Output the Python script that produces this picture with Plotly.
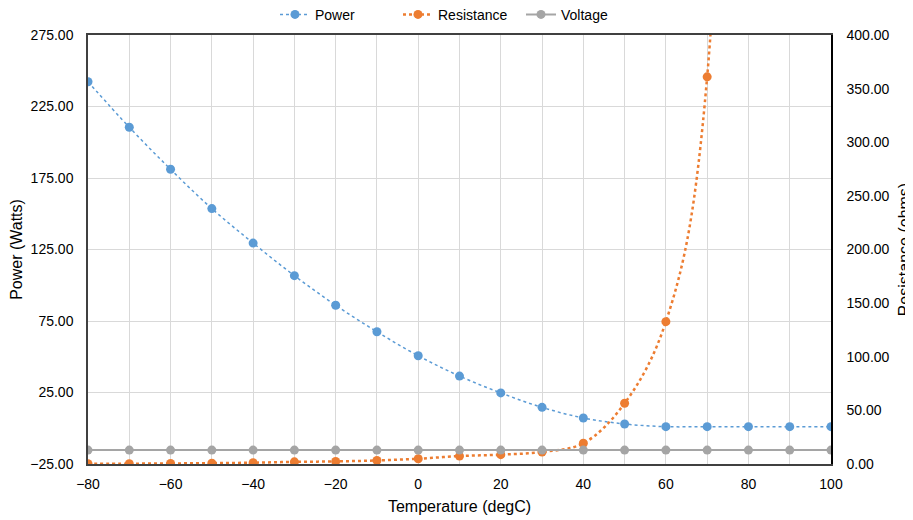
import plotly.graph_objects as go

temperature = [-80, -70, -60, -50, -40, -30, -20, -10, 0, 10, 20, 30, 40, 50, 60, 70, 80, 90, 100]
power = [242.3, 210.5, 181.1, 153.6, 129.5, 106.7, 86.0, 67.5, 50.7, 36.5, 24.7, 14.6, 7.2, 3.0, 1.1, 1.1, 1.1, 1.1, 1.1]
resistance = [0.2, 0.3, 0.5, 0.8, 1.2, 2.0, 2.4, 3.3, 4.9, 7.4, 8.7, 11.2, 19.3, 56.6, 132.7, 361.0, 6000.0, 15000.0, 40000.0]
voltage = [13.0] * len(temperature)

BLUE = "#5B9BD5"
ORANGE = "#ED7D31"
GRAY = "#A5A5A5"
FONT = "Liberation Sans, Arial, sans-serif"
CLEAR = "rgba(0,0,0,0)"

fig = go.Figure()
fig.add_trace(go.Scatter(
    x=temperature, y=power, name="Power", mode="lines+markers",
    line=dict(color=BLUE, width=1.5, dash="dot", shape="spline", smoothing=1),
    marker=dict(color=BLUE, size=9),
    yaxis="y",
))
fig.add_trace(go.Scatter(
    x=temperature, y=resistance, name="Resistance", mode="lines+markers",
    line=dict(color=ORANGE, width=2.5, dash="dot", shape="spline", smoothing=1),
    marker=dict(color=ORANGE, size=9),
    yaxis="y2",
))
fig.add_trace(go.Scatter(
    x=temperature, y=voltage, name="Voltage", mode="lines+markers",
    line=dict(color=GRAY, width=2),
    marker=dict(color=GRAY, size=9),
    yaxis="y2",
))

# page body has an 8px margin, so the figure is offset by (8, 8)
fig.update_layout(
    width=905, height=512,
    margin=dict(l=80, r=82, t=27, b=56, autoexpand=False),
    paper_bgcolor="white", plot_bgcolor="white",
    font=dict(family=FONT, size=14, color="#000000"),
    legend=dict(orientation="h", x=0.5, xanchor="center", y=1.047, yanchor="middle",
                font=dict(size=14), traceorder="normal", bgcolor=CLEAR,
                entrywidth=78),
    xaxis=dict(
        range=[-80, 100], tick0=-80, dtick=20, tickformat="d",
        showgrid=True, gridcolor="#D9D9D9", gridwidth=1,
        minor=dict(dtick=10, showgrid=True, gridcolor="#D9D9D9", gridwidth=1),
        showline=True, linecolor="#404040", linewidth=1.5, mirror=True,
        zeroline=False, ticks="outside", ticklen=6, tickcolor=CLEAR,
        automargin=False,
        title=dict(text="Temperature (degC)", font=dict(size=16), standoff=10),
    ),
    yaxis=dict(
        range=[-25, 275], tick0=-25, dtick=50, tickformat=".2f",
        showgrid=True, gridcolor="#D9D9D9", gridwidth=1,
        showline=True, linecolor="#404040", linewidth=1.5,
        zeroline=False, ticks="outside", ticklen=10, tickcolor=CLEAR,
        automargin=False,
        title=dict(text="Power (Watts)", font=dict(size=16), standoff=8),
    ),
    yaxis2=dict(
        range=[0, 400], tick0=0, dtick=50, tickformat=".2f",
        overlaying="y", side="right", showgrid=False,
        showline=True, linecolor="#000000", linewidth=1.5,
        zeroline=False, ticks="outside", ticklen=11, tickcolor=CLEAR,
        automargin=False,
        title=dict(text="Resistance (ohms)", font=dict(size=16), standoff=22),
    ),
)

fig.write_html("out.html")
